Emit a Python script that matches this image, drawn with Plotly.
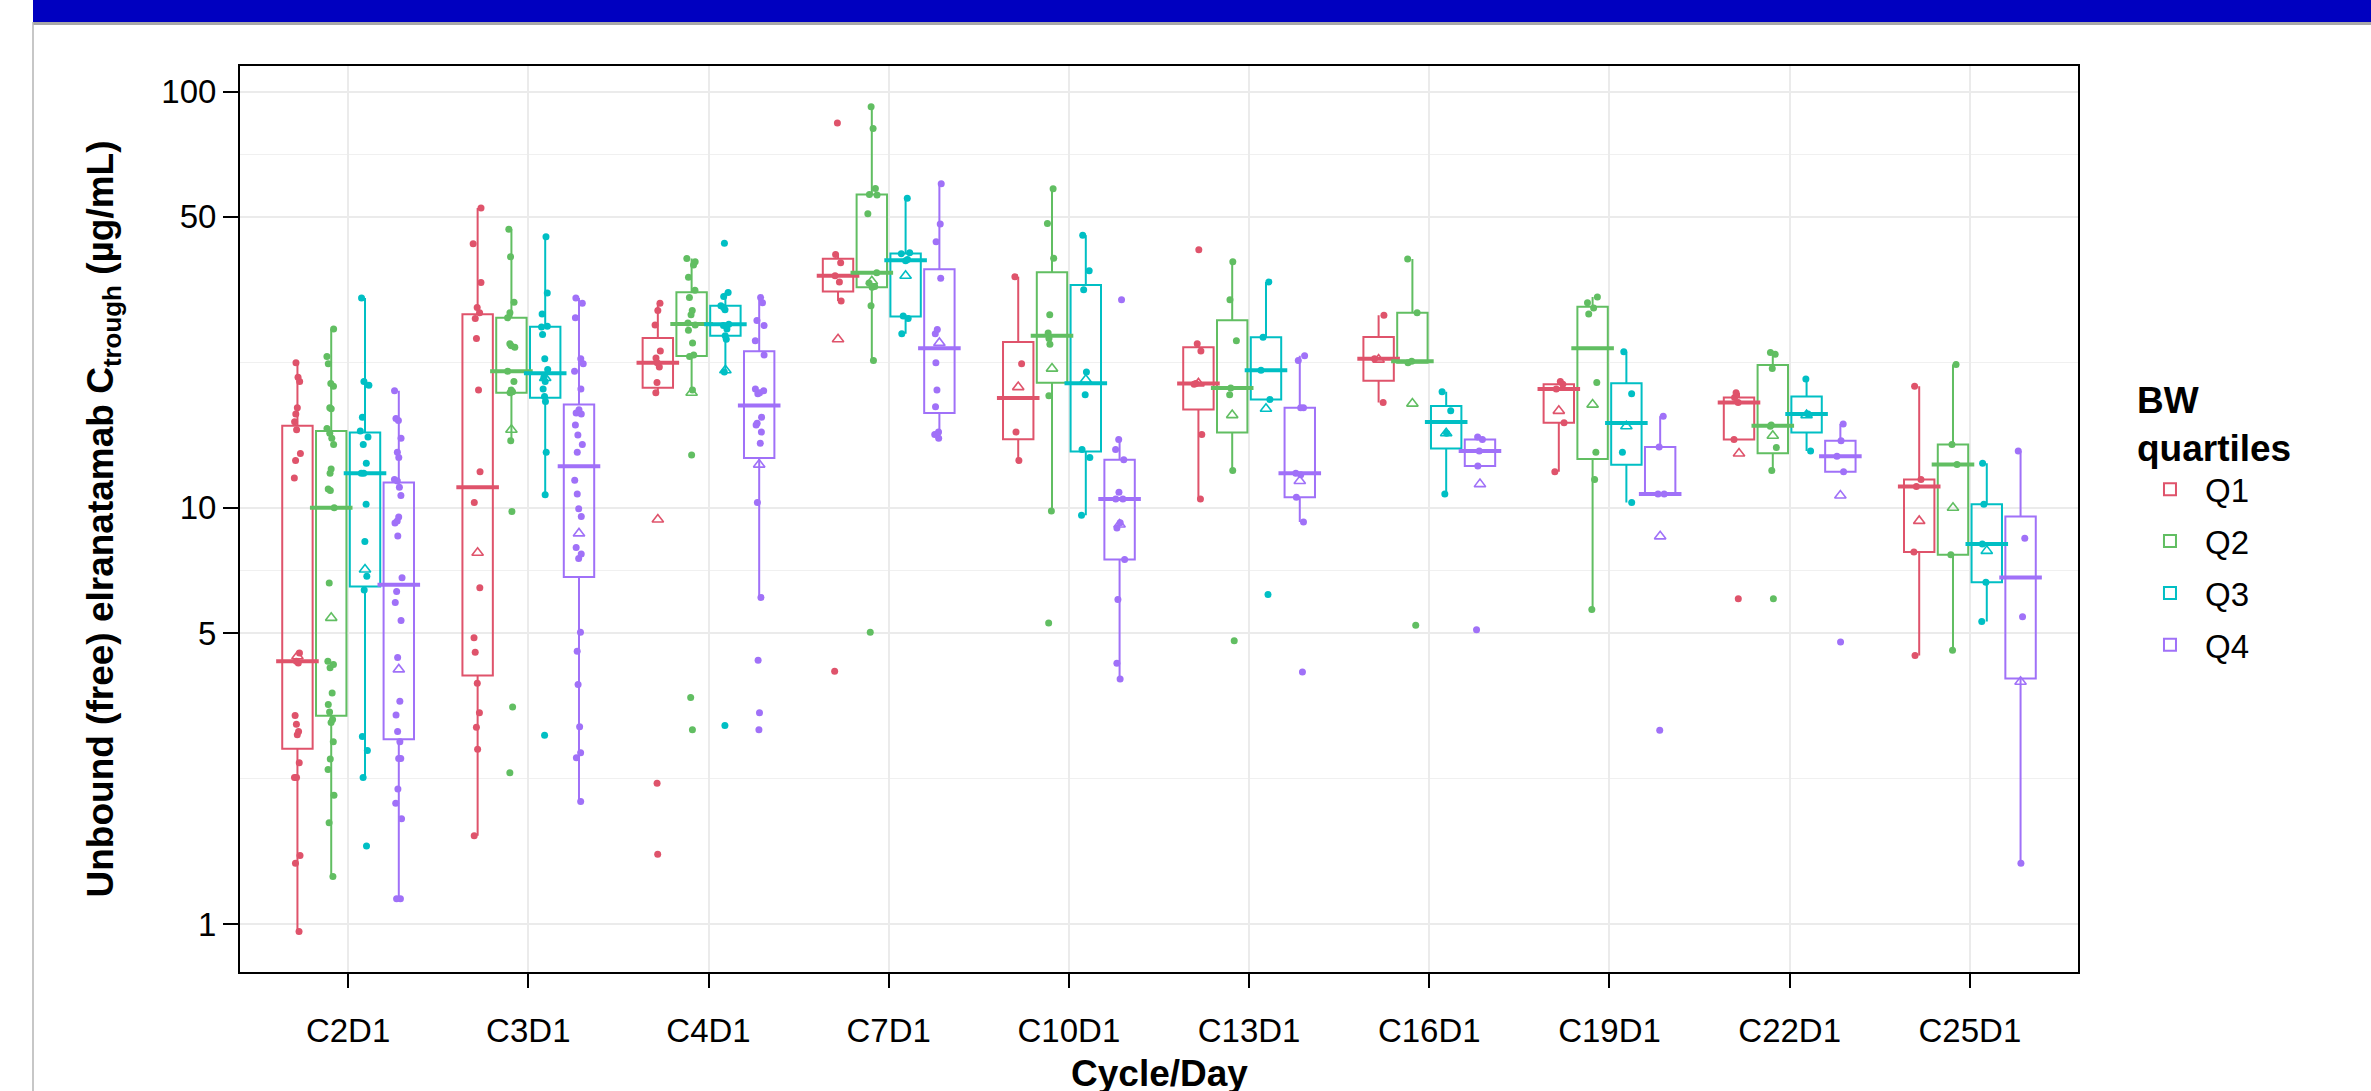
import numpy as np
import plotly.graph_objects as go

# ---------------- data ----------------
visits = ["C2D1", "C3D1", "C4D1", "C7D1", "C10D1", "C13D1", "C16D1", "C19D1", "C22D1", "C25D1"]
quartile_names = ["Q1", "Q2", "Q3", "Q4"]
quartile_colors = ["#DF536B", "#61BE62", "#00BFC4", "#A071F8"]

# individual Ctrough values (ug/mL), one list per visit
q1_values = [
    [22.3, 20.6, 20.1, 17.4, 16.8, 16.1, 15.4, 13.5, 13.0, 11.8, 4.48, 4.28, 4.24, 3.17, 3.02, 2.90, 2.85, 2.44, 2.25, 2.25, 1.46, 1.40, 0.96],
    [52.5, 43.1, 34.8, 30.3, 29.4, 28.5, 25.5, 19.2, 12.2, 10.3, 6.43, 4.87, 4.50, 3.79, 3.22, 2.97, 2.63, 1.63],
    [31.0, 29.8, 27.5, 23.8, 22.9, 22.3, 21.8, 20.0, 18.9, 2.18, 1.47],
    [84.1, 40.6, 38.8, 36.1, 34.9, 31.4, 4.05],
    [35.9, 22.2, 15.2, 13.0],
    [41.7, 24.8, 23.8, 19.9, 19.8, 15.0, 10.5],
    [29.0, 22.8, 17.9],
    [20.1, 19.8, 19.3, 16.0, 12.2],
    [18.9, 18.4, 17.9, 14.6, 6.05],
    [19.6, 11.7, 11.25, 7.83, 4.42],
]
q2_values = [
    [26.9, 23.1, 22.2, 19.9, 19.6, 17.4, 17.3, 15.5, 15.1, 14.7, 14.2, 12.4, 12.1, 11.1, 11.0, 10.0, 6.6, 4.28, 4.2, 4.13, 3.59, 3.37, 3.23, 3.10, 3.05, 2.74, 2.49, 2.35, 2.04, 1.75, 1.30],
    [46.7, 40.1, 31.2, 29.4, 28.6, 24.8, 24.5, 24.3, 21.3, 20.1, 19.2, 19.0, 18.9, 14.5, 9.8, 3.32, 2.31],
    [39.7, 39.0, 38.3, 35.8, 33.3, 32.0, 29.8, 29.1, 27.8, 27.5, 26.7, 24.9, 23.3, 23.1, 19.2, 13.4, 3.50, 2.93],
    [91.9, 81.5, 58.5, 56.6, 56.4, 50.9, 36.7, 34.7, 34.0, 33.9, 30.6, 22.6, 5.02],
    [58.4, 48.2, 39.8, 29.1, 26.3, 25.5, 24.7, 18.6, 9.83, 5.29],
    [39.0, 31.6, 25.2, 19.4, 18.7, 12.3, 4.79],
    [39.6, 29.4, 22.5, 22.3, 5.22],
    [32.1, 31.1, 30.2, 29.2, 20.0, 13.6, 11.7, 5.70],
    [23.6, 23.4, 21.6, 15.8, 15.7, 13.96, 12.3, 6.05],
    [22.1, 14.2, 12.7, 7.71, 4.55],
]
q3_values = [
    [31.9, 20.1, 19.7, 16.5, 15.3, 14.8, 14.2, 12.8, 12.1, 12.1, 10.2, 8.3, 6.85, 6.35, 2.82, 2.61, 2.25, 1.54],
    [44.8, 32.8, 29.2, 27.3, 27.2, 26.1, 22.8, 21.5, 20.6, 20.1, 19.3, 18.5, 18.0, 13.6, 10.75, 2.84],
    [43.2, 32.9, 32.2, 30.6, 30.3, 29.9, 27.6, 27.4, 26.9, 25.9, 25.4, 21.2, 3.00],
    [55.4, 41.0, 40.8, 39.5, 39.2, 28.9, 28.5, 26.2],
    [45.2, 37.1, 33.4, 21.2, 18.7, 13.8, 13.2, 9.6],
    [34.9, 25.7, 21.4, 18.2, 6.19],
    [19.0, 17.1, 15.1, 10.8],
    [23.7, 18.8, 13.6, 10.3],
    [20.4, 16.8, 13.7],
    [12.8, 10.2, 8.19, 6.62, 5.33],
]
q4_values = [
    [19.1, 16.4, 16.2, 14.7, 13.6, 13.2, 11.7, 11.6, 11.2, 10.7, 9.5, 9.3, 9.2, 8.55, 6.79, 6.29, 5.92, 5.36, 4.37, 3.43, 3.18, 2.90, 2.74, 2.50, 2.50, 2.11, 1.95, 1.79, 1.15, 1.15],
    [31.9, 31.0, 28.6, 22.8, 22.2, 21.3, 19.3, 17.2, 16.9, 16.8, 15.8, 14.96, 14.2, 13.6, 11.65, 10.8, 9.95, 9.53, 8.03, 7.75, 7.55, 5.02, 4.52, 3.76, 2.98, 2.58, 2.51, 1.97],
    [32.0, 31.1, 28.2, 27.4, 25.2, 23.3, 19.3, 19.1, 18.9, 18.8, 16.5, 15.96, 15.8, 15.2, 14.3, 10.3, 6.09, 4.30, 3.22, 2.93],
    [60.1, 48.1, 43.6, 35.6, 26.8, 26.2, 22.3, 19.2, 17.5, 15.2, 15.0, 14.7],
    [31.6, 14.6, 13.8, 13.05, 10.9, 10.5, 10.5, 9.21, 8.94, 7.51, 6.02, 4.23, 3.88],
    [23.2, 22.6, 17.4, 17.4, 12.1, 12.0, 10.6, 9.25, 4.03],
    [14.8, 14.6, 13.7, 12.6, 5.09],
    [16.6, 14.0, 10.8, 10.8, 2.92],
    [15.9, 14.5, 13.3, 12.2, 4.76],
    [13.7, 8.45, 5.47, 1.40],
]

# open-triangle summary markers (ug/mL), one per visit
q1_triangle = [4.4, 7.8, 9.37, 25.4, 19.5, 19.9, 22.7, 17.1, 13.5, 9.30]
q2_triangle = [5.44, 15.4, 18.9, 35.0, 21.6, 16.7, 17.8, 17.7, 14.9, 10.0]
q3_triangle = [7.11, 20.5, 21.4, 36.1, 20.3, 17.3, 15.1, 15.7, 16.7, 7.88]
q4_triangle = [4.09, 8.68, 12.7, 24.9, 9.12, 11.6, 11.4, 8.54, 10.7, 3.82]

y_tick_values = [1, 5, 10, 50, 100]
y_tick_labels = ["1", "5", "10", "50", "100"]

# ---------------- helpers ----------------
def box_stats(values):
    lv = np.log10(np.asarray(values, dtype=float))
    q1, med, q3 = np.percentile(lv, [25, 50, 75])
    iqr = q3 - q1
    lo = lv[lv >= q1 - 1.5 * iqr].min()
    hi = lv[lv <= q3 + 1.5 * iqr].max()
    return q1, med, q3, lo, hi

FONT = "Liberation Sans, Arial, Helvetica, sans-serif"

# page geometry (pixels)
W, H = 2371, 1091
L, R, T, B = 240, 293, 66, 119
pw, ph = W - L - R, H - T - B
X_RANGE = [-0.6, 9.6]
BOX_GAP, BOX_GROUP_GAP = 0.25, 0.1
n_groups = len(quartile_names)
box_width_px = pw / (X_RANGE[1] - X_RANGE[0]) * (1 - BOX_GAP) / n_groups * (1 - BOX_GROUP_GAP)

def px_x(p):
    return (p - L) / pw

def px_y(p):
    return (H - B - p) / ph

fig = go.Figure()

all_values = [q1_values, q2_values, q3_values, q4_values]
all_tri = [q1_triangle, q2_triangle, q3_triangle, q4_triangle]
all_stats = [[box_stats(v) for v in vals] for vals in all_values]

for name, col, vals, st in zip(quartile_names, quartile_colors, all_values, all_stats):
    fig.add_trace(go.Box(
        name=name,
        orientation="v",
        x=visits,
        q1=[s[0] for s in st],
        median=[s[1] for s in st],
        q3=[s[2] for s in st],
        lowerfence=[s[3] for s in st],
        upperfence=[s[4] for s in st],
        y=[list(np.log10(v)) for v in vals],
        boxpoints="all",
        jitter=0.35,
        pointpos=0,
        whiskerwidth=0,
        fillcolor="rgba(255,255,255,0)",
        line=dict(color=col, width=2),
        marker=dict(color=col, size=7, opacity=1),
        offsetgroup=name,
        legendgroup=name,
        hoverinfo="skip",
    ))

# thicker median bars (ggplot-style fattened median)
for name, col, st in zip(quartile_names, quartile_colors, all_stats):
    fig.add_trace(go.Scatter(
        x=visits,
        y=[s[1] for s in st],
        mode="markers",
        marker=dict(symbol="line-ew", size=box_width_px, color=col,
                    line=dict(color=col, width=4)),
        offsetgroup=name,
        legendgroup=name,
        showlegend=False,
        hoverinfo="skip",
    ))

for name, col, tri in zip(quartile_names, quartile_colors, all_tri):
    fig.add_trace(go.Scatter(
        x=visits,
        y=np.log10(tri),
        mode="markers",
        marker=dict(symbol="triangle-up-open", size=10, color=col,
                    line=dict(color=col, width=1.6)),
        offsetgroup=name,
        legendgroup=name,
        showlegend=False,
        hoverinfo="skip",
    ))

log_ticks = np.log10(y_tick_values)
minor_ticks = (log_ticks[:-1] + log_ticks[1:]) / 2

fig.update_layout(
    width=W, height=H,
    margin=dict(l=L, r=R, t=T, b=B, pad=0),
    paper_bgcolor="white",
    plot_bgcolor="white",
    font=dict(family=FONT, color="black", size=33),
    boxmode="group",
    boxgap=BOX_GAP,
    boxgroupgap=BOX_GROUP_GAP,
    scattermode="group",
    scattergap=BOX_GAP,
    showlegend=True,
    legend=dict(
        x=1.031, xanchor="left", y=0.5, yanchor="middle",
        title=dict(text="BW<br>quartiles", font=dict(size=37, family=FONT, weight="bold")),
        font=dict(size=33, family=FONT),
        bgcolor="rgba(0,0,0,0)",
        itemwidth=60,
        tracegroupgap=6,
    ),
    xaxis=dict(
        type="category",
        range=X_RANGE,
        showline=True, linecolor="black", linewidth=2, mirror=True,
        ticks="outside", ticklen=14, tickwidth=1.5, tickcolor="black",
        ticklabelstandoff=14,
        tickfont=dict(size=33, family=FONT, color="black"),
        showgrid=True, gridcolor="#EBEBEB", gridwidth=2,
        zeroline=False,
        automargin=False,
    ),
    yaxis=dict(
        type="linear",
        range=[-0.1153, 2.0615],
        tickmode="array",
        tickvals=list(log_ticks),
        ticktext=y_tick_labels,
        showline=True, linecolor="black", linewidth=2, mirror=True,
        ticks="outside", ticklen=15, tickwidth=2, tickcolor="black",
        tickfont=dict(size=33, family=FONT, color="black"),
        showgrid=True, gridcolor="#EBEBEB", gridwidth=2.2,
        minor=dict(tickmode="array", tickvals=list(minor_ticks), showgrid=True,
                   gridcolor="#F0F0F0", gridwidth=1.2, ticks=""),
        zeroline=False,
        automargin=False,
        title=dict(text="<b>Unbound (free) elranatamab C<sub>trough</sub> (µg/mL)</b>",
                   font=dict(size=37, family=FONT), standoff=36),
    ),
    annotations=[
        dict(text="<b>Cycle/Day</b>", xref="paper", yref="paper",
             x=0.5, y=px_y(1073), xanchor="center", yanchor="middle",
             showarrow=False, font=dict(size=37, family=FONT, color="black")),
    ],
    shapes=[
        dict(type="rect", xref="paper", yref="paper",
             x0=px_x(33), x1=px_x(W + 5), y0=px_y(25), y1=px_y(22),
             fillcolor="#A8A8A8", line=dict(width=0), layer="above"),
        dict(type="rect", xref="paper", yref="paper",
             x0=px_x(33), x1=px_x(W + 5), y0=px_y(22), y1=px_y(-5),
             fillcolor="#0000C0", line=dict(width=0), layer="above"),
        dict(type="line", xref="paper", yref="paper",
             x0=px_x(33), x1=px_x(33), y0=px_y(H + 5), y1=px_y(22),
             line=dict(color="#B4B4B4", width=1.5), layer="above"),
    ],
)

fig.write_html(
    "out.html",
    config={"displayModeBar": False},
    post_script="document.body.style.margin='0';document.body.style.overflow='hidden';",
)
